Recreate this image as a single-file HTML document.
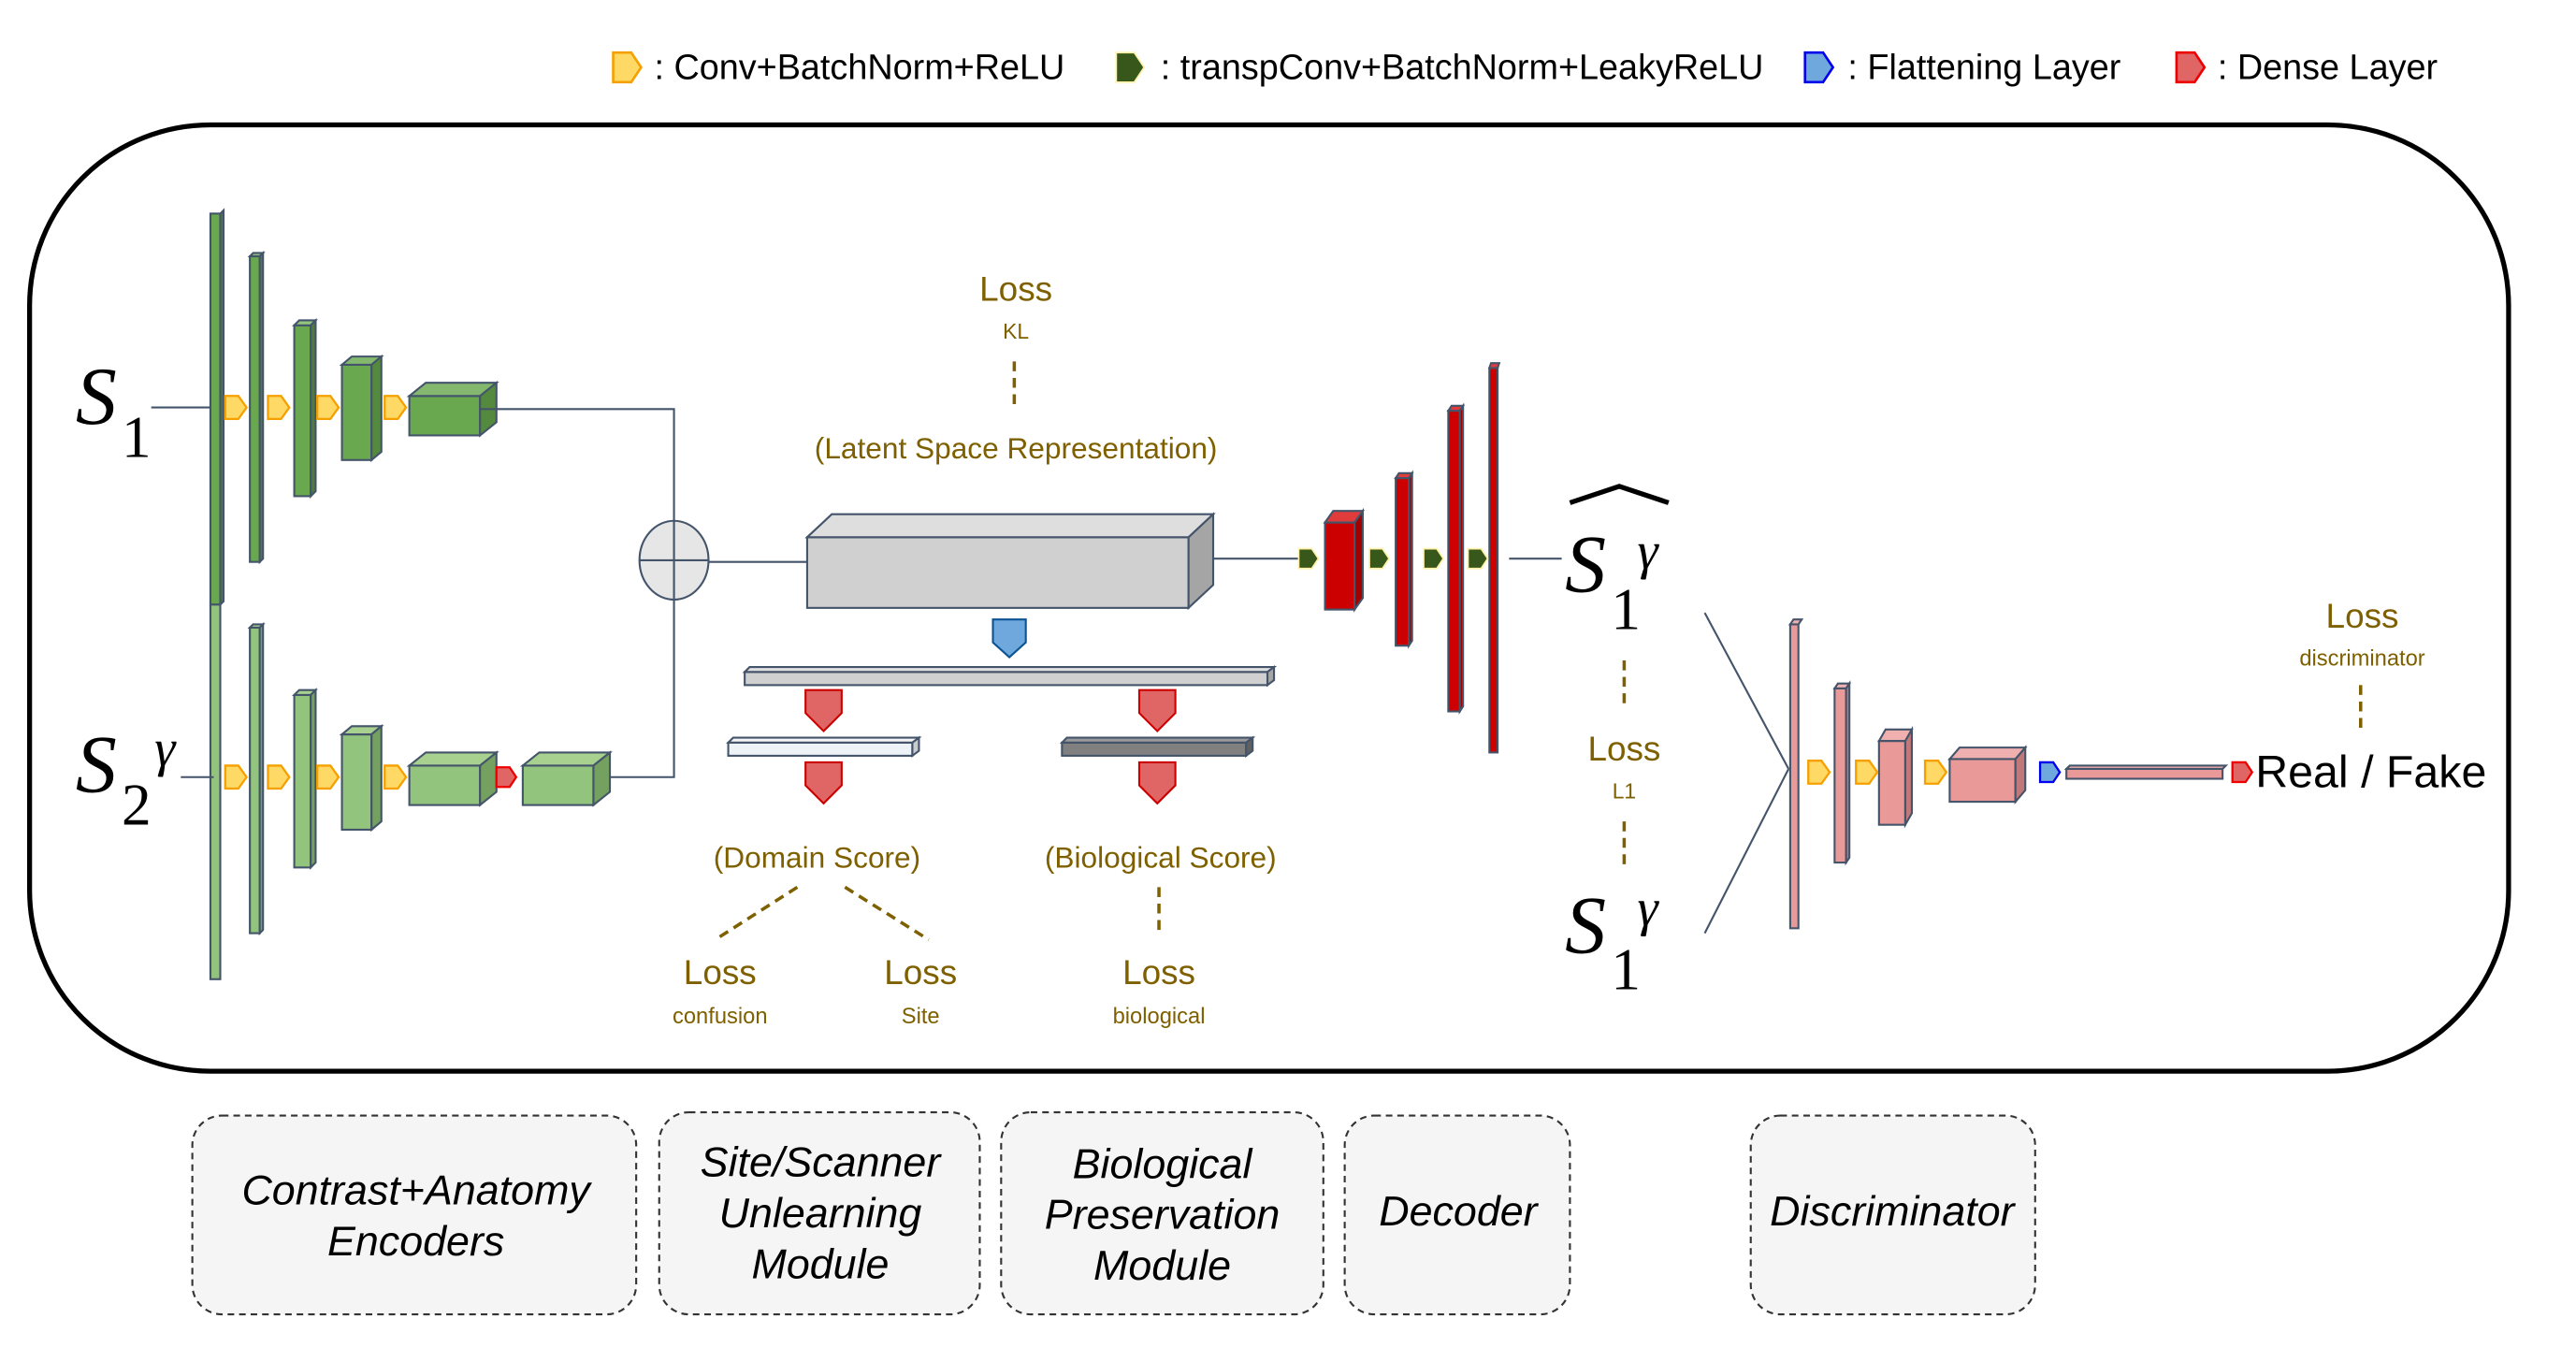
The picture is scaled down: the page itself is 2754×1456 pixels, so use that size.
<!DOCTYPE html>
<html><head><meta charset="utf-8"><style>html,body{margin:0;padding:0;background:#fff}svg{display:block}</style></head>
<body>
<svg width="2754" height="1456" viewBox="0 0 1567 829" preserveAspectRatio="none" xmlns="http://www.w3.org/2000/svg" font-family="Liberation Sans, sans-serif">
<defs>
<g id="ya"><polygon points="0,-7 8,-7 13,0 8,7 0,7" fill="#ffd966" stroke="#f6a000" stroke-width="1.3"/></g>
<g id="ga"><polygon points="0,-6 8,-6 12,0 8,6 0,6" fill="#38571a" stroke="#fff2a8" stroke-width="1"/></g>
<g id="ba"><polygon points="0,-6 8,-6 12,0 8,6 0,6" fill="#6fa8dc" stroke="#0000ee" stroke-width="1.3"/></g>
<g id="ra"><polygon points="0,-6 8,-6 12,0 8,6 0,6" fill="#e06666" stroke="#ee0000" stroke-width="1.3"/></g>
<g id="rd"><polygon points="-11,0 11,0 11,14 0,25 -11,14" fill="#e06666" stroke="#cc0000" stroke-width="1.2"/></g>
<g id="ya2"><polygon points="0,-9 11,-9 17,0 11,9 0,9" fill="#ffd966" stroke="#f6a000" stroke-width="1.5"/></g>
<g id="ga2"><polygon points="0,-9 11,-9 17,0 11,9 0,9" fill="#38571a" stroke="#fff2a8" stroke-width="1"/></g>
<g id="ba2"><polygon points="0,-9 11,-9 17,0 11,9 0,9" fill="#6fa8dc" stroke="#0000ee" stroke-width="1.5"/></g>
<g id="ra2"><polygon points="0,-9 11,-9 17,0 11,9 0,9" fill="#e06666" stroke="#ee0000" stroke-width="1.5"/></g>
</defs>
<!-- legend -->
<g font-size="21.5" fill="#000">
<use href="#ya2" x="373" y="41"/><text x="398" y="48">: Conv+BatchNorm+ReLU</text>
<use href="#ga2" x="679" y="41"/><text x="706" y="48">: transpConv+BatchNorm+LeakyReLU</text>
<use href="#ba2" x="1098" y="41"/><text x="1124" y="48">: Flattening Layer</text>
<use href="#ra2" x="1324" y="41"/><text x="1349" y="48">: Dense Layer</text>
</g>
<rect x="18" y="76" width="1508" height="576" rx="110" ry="110" fill="none" stroke="#000" stroke-width="3"/>

<g stroke="#44546a" stroke-width="1.2">
<line x1="92" y1="248" x2="130" y2="248"/>
<rect x="128" y="130" width="6" height="238" fill="#6aa84f"/>
<rect x="128" y="368" width="6" height="228" fill="#93c47d"/>
<polygon points="134,130 136,128 136,366 134,368" fill="#4e7d3a"/>
<rect x="152" y="156" width="6" height="186" fill="#6aa84f"/><polygon points="152,156 154,154 160,154 158,156" fill="#93c47d"/><polygon points="158,156 160,154 160,340 158,342" fill="#4e7d3a"/>
<rect x="179" y="198" width="10" height="104" fill="#6aa84f"/><polygon points="179,198 182,195 192,195 189,198" fill="#93c47d"/><polygon points="189,198 192,195 192,299 189,302" fill="#4e7d3a"/>
<rect x="208" y="222" width="18" height="58" fill="#6aa84f"/><polygon points="208,222 214,217 232,217 226,222" fill="#85b86f"/><polygon points="226,222 232,217 232,275 226,280" fill="#548a3d"/>
<rect x="249" y="241" width="43" height="24" fill="#6aa84f"/><polygon points="249,241 259,233 302,233 292,241" fill="#85b86f"/><polygon points="292,241 302,233 302,257 292,265" fill="#548a3d"/>
<polyline points="292,249 410,249 410,473 368,473" fill="none"/>
<line x1="110" y1="473" x2="130" y2="473"/>
<rect x="152" y="382" width="6" height="186" fill="#93c47d"/><polygon points="152,382 154,380 160,380 158,382" fill="#a8d08f"/><polygon points="158,382 160,380 160,566 158,568" fill="#74a060"/>
<rect x="179" y="423" width="10" height="105" fill="#93c47d"/><polygon points="179,423 182,420 192,420 189,423" fill="#a8d08f"/><polygon points="189,423 192,420 192,525 189,528" fill="#74a060"/>
<rect x="208" y="447" width="18" height="58" fill="#93c47d"/><polygon points="208,447 214,442 232,442 226,447" fill="#a8d08f"/><polygon points="226,447 232,442 232,500 226,505" fill="#74a060"/>
<rect x="249" y="466" width="43" height="24" fill="#93c47d"/><polygon points="249,466 259,458 302,458 292,466" fill="#a8d08f"/><polygon points="292,466 302,458 302,482 292,490" fill="#74a060"/>
<rect x="318" y="466" width="43" height="24" fill="#93c47d"/><polygon points="318,466 328,458 371,458 361,466" fill="#a8d08f"/><polygon points="361,466 371,458 371,482 361,490" fill="#74a060"/>
<ellipse cx="410" cy="341" rx="21" ry="24" fill="#e6e6e6"/>
<line x1="389" y1="341" x2="431" y2="341"/><line x1="410" y1="317" x2="410" y2="365"/>
<line x1="431" y1="342" x2="491" y2="342"/>
<rect x="491" y="327" width="232" height="43" fill="#d0d0d0"/><polygon points="491,327 506,313 738,313 723,327" fill="#dedede"/><polygon points="723,327 738,313 738,356 723,370" fill="#a5a5a5"/>
<line x1="738" y1="340" x2="790" y2="340"/>
<rect x="453" y="409" width="318" height="8" fill="#d0d0d0"/><polygon points="453,409 456,406 775,406 771,409" fill="#e0e0e0"/><polygon points="771,409 775,406 775,414 771,417" fill="#a5a5a5"/>
<rect x="443" y="452" width="112" height="8" fill="#eef3f8"/><polygon points="443,452 446,449 559,449 555,452" fill="#f5f5f5"/><polygon points="555,452 559,449 559,457 555,460" fill="#c8ccd0"/>
<rect x="646" y="452" width="112" height="8" fill="#808080"/><polygon points="646,452 649,449 762,449 758,452" fill="#9a9a9a"/><polygon points="758,452 762,449 762,457 758,460" fill="#606060"/>
<rect x="806" y="318" width="18" height="53" fill="#cc0000"/><polygon points="806,318 811,311 829,311 824,318" fill="#e03c3c"/><polygon points="824,318 829,311 829,364 824,371" fill="#a00000"/>
<rect x="849" y="291" width="8" height="102" fill="#cc0000"/><polygon points="849,291 851,288 859,288 857,291" fill="#e03c3c"/><polygon points="857,291 859,288 859,390 857,393" fill="#a00000"/>
<rect x="881" y="250" width="7" height="183" fill="#cc0000"/><polygon points="881,250 883,247 890,247 888,250" fill="#e03c3c"/><polygon points="888,250 890,247 890,430 888,433" fill="#a00000"/>
<rect x="906" y="224" width="5" height="234" fill="#cc0000"/><polygon points="906,224 907,221 912,221 911,224" fill="#e03c3c"/>
<line x1="918" y1="340" x2="950" y2="340"/>
<line x1="1037" y1="373" x2="1088" y2="468"/><line x1="1037" y1="568" x2="1088" y2="468"/>
<rect x="1089" y="380" width="5" height="185" fill="#ea9999"/><polygon points="1089,380 1091,377 1096,377 1094,380" fill="#f0b0b0"/>
<rect x="1116" y="419" width="7" height="106" fill="#ea9999"/><polygon points="1116,419 1118,416 1125,416 1123,419" fill="#f0b0b0"/><polygon points="1123,419 1125,416 1125,522 1123,525" fill="#c07878"/>
<rect x="1143" y="451" width="16" height="51" fill="#ea9999"/><polygon points="1143,451 1147,444 1163,444 1159,451" fill="#f0b0b0"/><polygon points="1159,451 1163,444 1163,495 1159,502" fill="#c07878"/>
<rect x="1186" y="462" width="40" height="26" fill="#ea9999"/><polygon points="1186,462 1192,455 1232,455 1226,462" fill="#f0b0b0"/><polygon points="1226,462 1232,455 1232,481 1226,488" fill="#c07878"/>
<rect x="1257" y="468" width="95" height="6" fill="#ea9999"/><polygon points="1257,468 1259,466 1354,466 1352,468" fill="#f0b0b0"/>
</g>
<use href="#ya" x="137" y="248"/><use href="#ya" x="163" y="248"/><use href="#ya" x="193" y="248"/><use href="#ya" x="234" y="248"/>
<use href="#ya" x="137" y="473"/><use href="#ya" x="163" y="473"/><use href="#ya" x="193" y="473"/><use href="#ya" x="234" y="473"/>
<use href="#ra" x="302" y="473"/>
<use href="#ga" x="790" y="340"/><use href="#ga" x="833" y="340"/><use href="#ga" x="866" y="340"/><use href="#ga" x="893" y="340"/>
<use href="#ya" x="1100" y="470"/><use href="#ya" x="1129" y="470"/><use href="#ya" x="1171" y="470"/>
<use href="#ba" x="1241" y="470"/><use href="#ra" x="1358" y="470"/>
<polygon points="604,377 624,377 624,391 614,400 604,391" fill="#6fa8dc" stroke="#0b5394" stroke-width="1.2"/>
<use href="#rd" x="501" y="420"/><use href="#rd" x="704" y="420"/><use href="#rd" x="501" y="464"/><use href="#rd" x="704" y="464"/>
<g font-family="Liberation Serif, serif" font-style="italic" fill="#000">
<text x="46" y="258" font-size="50">S</text><text x="74" y="278" font-size="36" font-style="normal">1</text>
<text x="46" y="482" font-size="50">S</text><text x="74" y="502" font-size="36" font-style="normal">2</text><text x="94" y="466" font-size="32">γ</text>
<text x="952" y="360" font-size="50">S</text><text x="980" y="383" font-size="36" font-style="normal">1</text><text x="996" y="346" font-size="32">γ</text>
<polyline points="955,306 985,296 1015,306" fill="none" stroke="#000" stroke-width="3"/>
<text x="952" y="580" font-size="50">S</text><text x="980" y="602" font-size="36" font-style="normal">1</text><text x="996" y="563" font-size="32">γ</text>
</g>
<g fill="#7f6000" text-anchor="middle">
<text x="618" y="183" font-size="21">Loss</text><text x="618" y="206" font-size="13">KL</text>
<text x="618" y="279" font-size="18">(Latent Space Representation)</text>
<text x="497" y="528" font-size="18">(Domain Score)</text><text x="706" y="528" font-size="18">(Biological Score)</text>
<text x="438" y="599" font-size="21">Loss</text><text x="438" y="623" font-size="13.5">confusion</text>
<text x="560" y="599" font-size="21">Loss</text><text x="560" y="623" font-size="13.5">Site</text>
<text x="705" y="599" font-size="21">Loss</text><text x="705" y="623" font-size="13.5">biological</text>
<text x="988" y="463" font-size="21">Loss</text><text x="988" y="486" font-size="13">L1</text>
<text x="1437" y="382" font-size="21">Loss</text><text x="1437" y="405" font-size="13.5">discriminator</text>
</g>
<g stroke="#7f6000" stroke-width="2" stroke-dasharray="6,4" fill="none">
<line x1="617" y1="220" x2="617" y2="250"/>
<line x1="485" y1="540" x2="435" y2="572"/><line x1="514" y1="540" x2="565" y2="572"/>
<line x1="705" y1="540" x2="705" y2="568"/>
<line x1="988" y1="402" x2="988" y2="432"/><line x1="988" y1="500" x2="988" y2="530"/>
<line x1="1436" y1="417" x2="1436" y2="447"/>
</g>
<text x="1372" y="479" font-size="27.5" fill="#000">Real / Fake</text>
<g fill="#f5f5f5" stroke="#333" stroke-width="1.2" stroke-dasharray="4,3">
<rect x="117" y="679" width="270" height="121" rx="18"/>
<rect x="401" y="677" width="195" height="123" rx="18"/>
<rect x="609" y="677" width="196" height="123" rx="18"/>
<rect x="818" y="679" width="137" height="121" rx="18"/>
<rect x="1065" y="679" width="173" height="121" rx="18"/>
</g>
<g font-size="25.5" font-style="italic" text-anchor="middle" fill="#000">
<text x="253" y="733">Contrast+Anatomy</text><text x="253" y="764">Encoders</text>
<text x="499" y="716">Site/Scanner</text><text x="499" y="747">Unlearning</text><text x="499" y="778">Module</text>
<text x="707" y="717">Biological</text><text x="707" y="748">Preservation</text><text x="707" y="779">Module</text>
<text x="887" y="746">Decoder</text>
<text x="1151" y="746">Discriminator</text>
</g>
</svg>
</body></html>
